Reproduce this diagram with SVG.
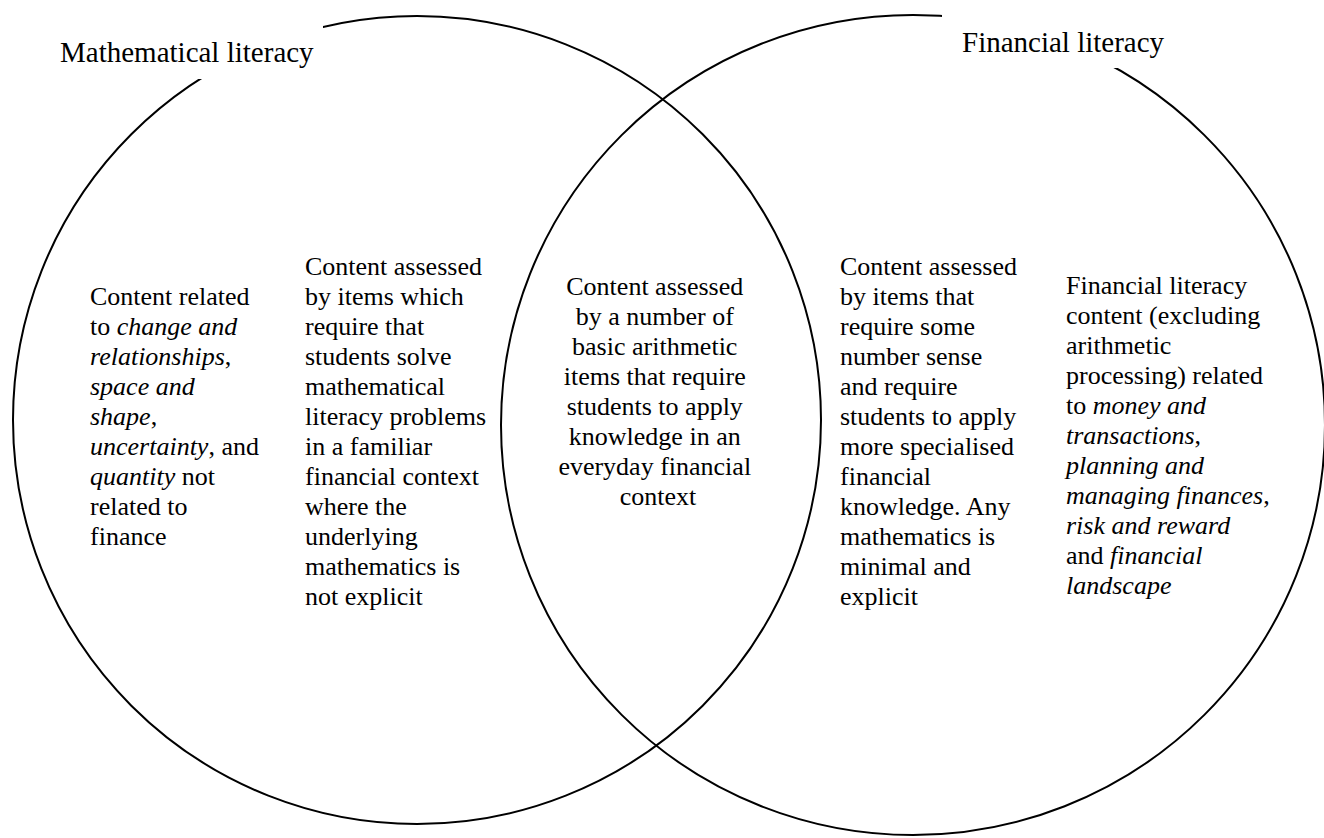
<svg xmlns="http://www.w3.org/2000/svg" width="1324" height="838" viewBox="0 0 1324 838">
<style>
text, tspan { font-family: "Liberation Serif", "Times New Roman", serif; fill: #000; }
.body { font-size: 26px; }
.title { font-size: 29px; }
.ring { fill: none; stroke: #000; stroke-width: 2; }
.mask { fill: #fff; stroke: none; }
.i { font-style: italic; }
</style>
<rect x="0" y="0" width="1324" height="838" fill="#fff"/>
<g id="circle-math"><ellipse class="ring" cx="417" cy="420" rx="404" ry="404"/></g>
<g id="circle-fin"><ellipse class="ring" cx="913" cy="425" rx="412" ry="410"/></g>
<g id="title-math">
<rect class="mask" x="40" y="0" width="283" height="79"/>
<text class="title" font-family="Liberation Serif, serif" x="60" y="62">Mathematical literacy</text>
</g>
<g id="title-fin">
<rect class="mask" x="942" y="0" width="382" height="68"/>
<text class="title" font-family="Liberation Serif, serif" x="962" y="52">Financial literacy</text>
</g>
<g id="text-math-only">
<text class="body" font-family="Liberation Serif, serif" y="305">
<tspan x="90">Content related</tspan>
<tspan x="90" dy="30">to <tspan class="i">change and</tspan></tspan>
<tspan x="90" dy="30"><tspan class="i">relationships</tspan>,</tspan>
<tspan x="90" dy="30" class="i">space and</tspan>
<tspan x="90" dy="30"><tspan class="i">shape</tspan>,</tspan>
<tspan x="90" dy="30"><tspan class="i">uncertainty</tspan>, and</tspan>
<tspan x="90" dy="30"><tspan class="i">quantity</tspan> not</tspan>
<tspan x="90" dy="30">related to</tspan>
<tspan x="90" dy="30">finance</tspan>
</text>
</g>
<g id="text-math-financial-context">
<text class="body" font-family="Liberation Serif, serif" y="275">
<tspan x="305">Content assessed</tspan>
<tspan x="305" dy="30">by items which</tspan>
<tspan x="305" dy="30">require that</tspan>
<tspan x="305" dy="30">students solve</tspan>
<tspan x="305" dy="30">mathematical</tspan>
<tspan x="305" dy="30">literacy problems</tspan>
<tspan x="305" dy="30">in a familiar</tspan>
<tspan x="305" dy="30">financial context</tspan>
<tspan x="305" dy="30">where the</tspan>
<tspan x="305" dy="30">underlying</tspan>
<tspan x="305" dy="30">mathematics is</tspan>
<tspan x="305" dy="30">not explicit</tspan>
</text>
</g>
<g id="text-overlap">
<text class="body" font-family="Liberation Serif, serif" y="295" text-anchor="middle">
<tspan x="658">Content assessed</tspan>
<tspan x="658" dy="30">by a number of</tspan>
<tspan x="658" dy="30">basic arithmetic</tspan>
<tspan x="658" dy="30">items that require</tspan>
<tspan x="658" dy="30">students to apply</tspan>
<tspan x="658" dy="30">knowledge in an</tspan>
<tspan x="658" dy="30">everyday financial</tspan>
<tspan x="658" dy="30">context</tspan>
</text>
</g>
<g id="text-fin-number-sense">
<text class="body" font-family="Liberation Serif, serif" y="275">
<tspan x="840">Content assessed</tspan>
<tspan x="840" dy="30">by items that</tspan>
<tspan x="840" dy="30">require some</tspan>
<tspan x="840" dy="30">number sense</tspan>
<tspan x="840" dy="30">and require</tspan>
<tspan x="840" dy="30">students to apply</tspan>
<tspan x="840" dy="30">more specialised</tspan>
<tspan x="840" dy="30">financial</tspan>
<tspan x="840" dy="30">knowledge. Any</tspan>
<tspan x="840" dy="30">mathematics is</tspan>
<tspan x="840" dy="30">minimal and</tspan>
<tspan x="840" dy="30">explicit</tspan>
</text>
</g>
<g id="text-fin-only">
<text class="body" font-family="Liberation Serif, serif" y="294">
<tspan x="1066">Financial literacy</tspan>
<tspan x="1066" dy="30">content (excluding</tspan>
<tspan x="1066" dy="30">arithmetic</tspan>
<tspan x="1066" dy="30">processing) related</tspan>
<tspan x="1066" dy="30">to <tspan class="i">money and</tspan></tspan>
<tspan x="1066" dy="30"><tspan class="i">transactions</tspan>,</tspan>
<tspan x="1066" dy="30" class="i">planning and</tspan>
<tspan x="1066" dy="30"><tspan class="i">managing finances</tspan>,</tspan>
<tspan x="1066" dy="30" class="i">risk and reward</tspan>
<tspan x="1066" dy="30">and <tspan class="i">financial</tspan></tspan>
<tspan x="1066" dy="30" class="i">landscape</tspan>
</text>
</g>
</svg>
